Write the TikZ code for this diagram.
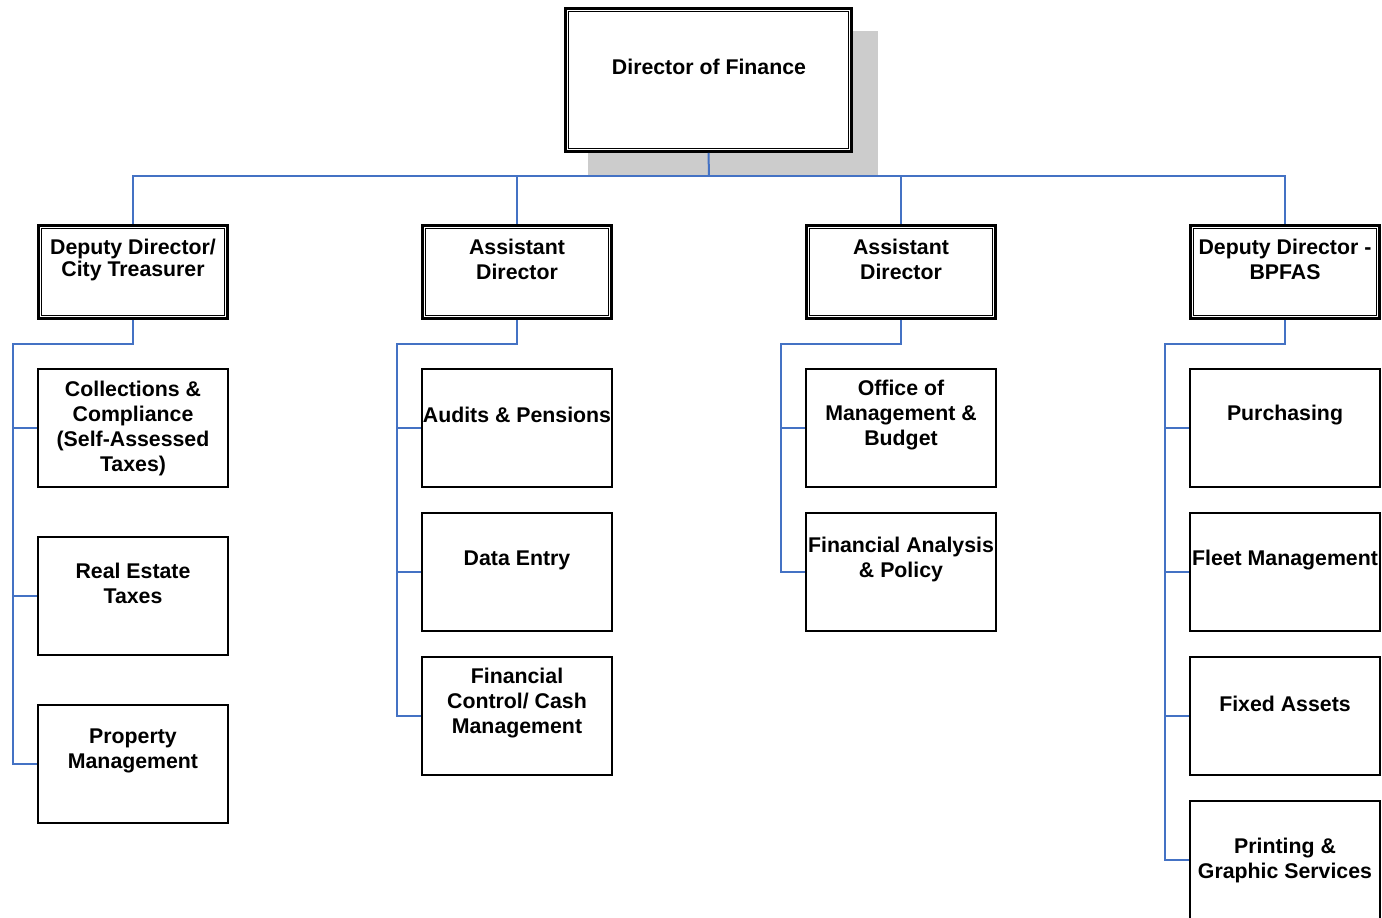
\documentclass[tikz,border=0pt]{standalone}
\usepackage{fontspec}
\setmainfont{Liberation Sans}
\definecolor{linkblue}{HTML}{4472C4}
\definecolor{shadowgray}{HTML}{CCCCCC}
\begin{document}
\begin{tikzpicture}[x=1pt,y=-1pt,
  lbl/.style={font=\bfseries\fontsize{21.3}{25}\selectfont, align=center, inner sep=0pt},
  headbox/.style={draw, fill=white, line width=2.8pt, minimum width=189pt, minimum height=93pt, inner sep=0pt},
  unitbox/.style={draw, fill=white, line width=2.2pt, minimum width=190pt, minimum height=118pt, inner sep=0pt},
  conn/.style={draw=linkblue, line width=2pt},
  innerline/.style={line width=1.4pt}
]
\useasboundingbox (0,0) rectangle (1382,918);

% ---- Director of Finance with drop shadow ----
\fill[shadowgray] (588,31) rectangle (878,176);
\node[draw, fill=white, line width=2.8pt, minimum width=286pt, minimum height=143pt, inner sep=0pt] (top) at (708.5,80) {};
\draw[innerline] ([xshift=4.5pt,yshift=-4.5pt]top.north west) rectangle ([xshift=-4.5pt,yshift=4.5pt]top.south east);
\node[lbl] (ttop) at (709,67) {Director of Finance};

% ---- Second level ----
\node[headbox] (d1) at (133,272) {};
\node[headbox] (d2) at (517,272) {};
\node[headbox] (d3) at (901,272) {};
\node[headbox] (d4) at (1285,272) {};
\foreach \n in {d1,d2,d3,d4}
  \draw[innerline] ([xshift=4.5pt,yshift=-4.5pt]\n.north west) rectangle ([xshift=-4.5pt,yshift=4.5pt]\n.south east);
\node[lbl, font=\bfseries\fontsize{21.3}{22}\selectfont] (td1) at (133,260) {Deputy Director/\\City Treasurer};
\node[lbl] (td2) at (517,259) {Assistant\\Director};
\node[lbl] (td3) at (901,259) {Assistant\\Director};
\node[lbl] (td4) at (1285,259) {Deputy Director -\\BPFAS};

% ---- Units: Deputy Director / City Treasurer ----
\node[unitbox] (a1) at (133,428) {};
\node[unitbox] (a2) at (133,596) {};
\node[unitbox] (a3) at (133,764) {};
\node[lbl] (ta1) at (133,428) {Collections \&\\Compliance\\(Self-Assessed\\Taxes)};
\node[lbl] (ta2) at (133,583) {Real Estate\\Taxes};
\node[lbl] (ta3) at (133,751) {Property\\Management};

% ---- Units: Assistant Director (column 2) ----
\node[unitbox] (b1) at (517,428) {};
\node[unitbox] (b2) at (517,572) {};
\node[unitbox] (b3) at (517,716) {};
\node[lbl] (tb1) at (517,415) {Audits \& Pensions};
\node[lbl] (tb2) at (517,560) {Data Entry};
\node[lbl] (tb3) at (517,703) {Financial\\Control/ Cash\\Management};

% ---- Units: Assistant Director (column 3) ----
\node[unitbox] (c1) at (901,428) {};
\node[unitbox] (c2) at (901,572) {};
\node[lbl] (tc1) at (901,415) {Office of\\Management \&\\Budget};
\node[lbl] (tc2) at (901,559) {Financial Analysis\\\& Policy};

% ---- Units: Deputy Director - BPFAS ----
\node[unitbox] (e1) at (1285,428) {};
\node[unitbox] (e2) at (1285,572) {};
\node[unitbox] (e3) at (1285,716) {};
\node[unitbox, minimum height=160pt] (e4) at (1285,881) {};
\node[lbl] (te1) at (1285,415) {Purchasing};
\node[lbl] (te2) at (1285,560) {Fleet Management};
\node[lbl] (te3) at (1285,704) {Fixed Assets};
\node[lbl] (te4) at (1285,860) {Printing \&\\Graphic Services};

% ---- Connectors from the director to the second level ----
\coordinate (bus) at (709,176);
\draw[conn] (top.south) -- (bus);
\draw[conn] (d1.north) |- (bus) -| (d4.north);
\draw[conn] (d2.north) -- (d2.north |- bus);
\draw[conn] (d3.north) -- (d3.north |- bus);

% ---- Connectors from each second-level box to its units ----
\coordinate (ka) at (13,344);
\coordinate (kb) at (397,344);
\coordinate (kc) at (781,344);
\coordinate (ke) at (1165,344);

\draw[conn] (d1.south) |- (ka) |- (a3.west);
\draw[conn] (ka) |- (a1.west);
\draw[conn] (ka) |- (a2.west);

\draw[conn] (d2.south) |- (kb) |- (b3.west);
\draw[conn] (kb) |- (b1.west);
\draw[conn] (kb) |- (b2.west);

\draw[conn] (d3.south) |- (kc) |- (c2.west);
\draw[conn] (kc) |- (c1.west);

\coordinate (e4stub) at (1189,860);
\draw[conn] (d4.south) |- (ke) |- (e4stub);
\draw[conn] (ke) |- (e1.west);
\draw[conn] (ke) |- (e2.west);
\draw[conn] (ke) |- (e3.west);
\end{tikzpicture}
\end{document}
